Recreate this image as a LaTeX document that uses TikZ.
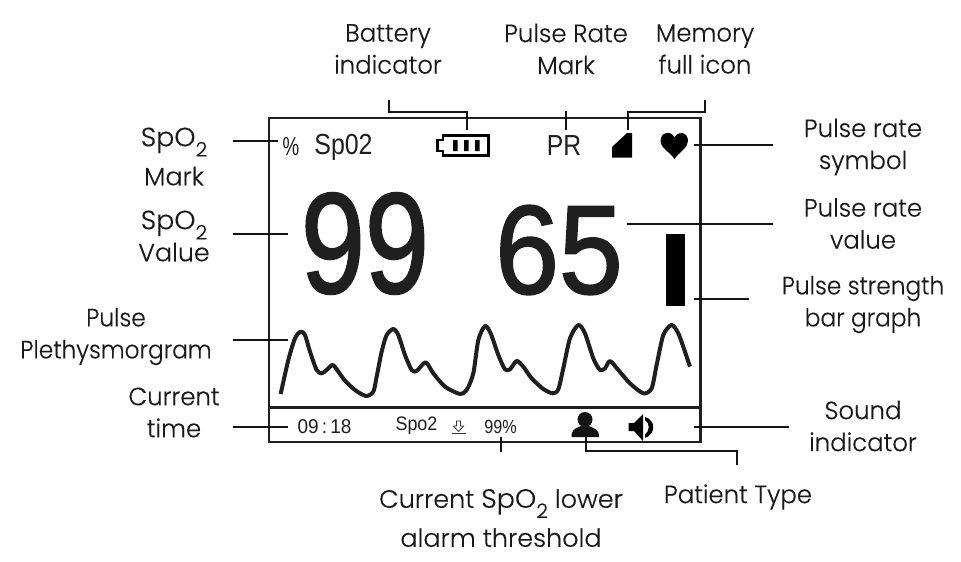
\documentclass[tikz,border=0pt]{standalone}
\usepackage{fontspec}
\setmainfont[FakeBold=0.25]{Poppins Light}
\newfontfamily\dispfont{Liberation Sans}
\newfontfamily\bigfont[FakeBold=1.6]{Liberation Sans}
\newcommand{\spotwo}{{\fontsize{26.5}{32}\selectfont SpO}\raisebox{-0.75ex}{\fontsize{20}{20}\selectfont 2}}
\tikzset{
  lbl/.style={inner sep=0pt,align=center,font=\fontsize{25}{32}\selectfont,text=black!90,xscale=.975},
  lblnarrow/.style={lbl,xscale=.955},
  disp/.style={inner sep=0pt,font=\dispfont,text=black!88},
  conn/.style={line width=2pt,black!92},
  frame/.style={line width=2.7pt,black!88},
  wave/.style={line width=4pt,black!88,line join=round,line cap=butt},
}
\begin{document}
\begin{tikzpicture}[x=1pt,y=-1pt]
\useasboundingbox (0,0) rectangle (961,562);
\fill[white] (0,0) rectangle (961,562);
% frame
\draw[frame] (269,118) rectangle (700.5,442);
\coordinate (divl) at (269,407.5);
\coordinate (divr) at (700.5,407.5);
\draw[frame] (divl) -- (divr);
% labels
\node[lbl,xscale=1.04] (spomark) at (174,156.5) {\spotwo\\[7pt]Mark};
\node[lbl,xscale=1.04] (spoval) at (174,236) {\spotwo\\Value};
\node[lbl] (battery) at (388,49) {Battery\\indicator};
\node[lbl] (prmark) at (566,49) {Pulse Rate\\Mark};
\node[lbl] (memory) at (705,49) {Memory\\full icon};
\node[lblnarrow] (pleth) at (116,336.5) {Pulse\\Plethysmorgram};
\node[lbl] (curtime) at (174,412.5) {Current\\time};
\node[lbl] (prsym) at (863,147) {Pulse rate\\symbol};
\node[lbl] (prval) at (863,223.5) {Pulse rate\\value};
\node[lblnarrow] (strength) at (863,304.5) {Pulse strength\\bar graph};
\node[lbl] (sound) at (863,426) {Sound\\indicator};
\node[lbl,xscale=1.045] (thresh) at (501,518) {Current \spotwo{} lower\\[7pt]alarm threshold};
\node[lbl] (ptype) at (738,497) {Patient Type};
% display texts
\node[disp,font=\dispfont\fontsize{26}{26}\selectfont,xscale=.72] (pct) at (291,147) {\%};
\node[disp,font=\dispfont\fontsize{29}{29}\selectfont,xscale=.86] (sp02) at (343.5,147) {Sp02};
\node[disp,font=\dispfont\fontsize{29}{29}\selectfont,xscale=.85] (pr) at (564,146) {PR};
\node[disp,font=\bigfont\fontsize{143}{143}\selectfont,xscale=.805] (big) at (365,243.5) {99};
\node[disp,font=\bigfont\fontsize{126}{126}\selectfont,xscale=.91] (rate) at (559,250) {65};
\node[disp,font=\dispfont\fontsize{20}{20}\selectfont,xscale=.95] (clock) at (324.5,426.5) {09\,:\,18};
\node[disp,font=\dispfont\fontsize{19.5}{19.5}\selectfont,xscale=.92] (spo) at (416.5,426) {Spo2};
\node[disp,font=\dispfont\fontsize{19}{19}\selectfont,xscale=.85] (lim) at (500.5,427) {99\%};
% battery icon
\draw[line width=2.7pt,black] (443,135.5) -- (488.5,135.5) -- (488.5,155.5) -- (443,155.5) -- (443,151) -- (437.5,151) -- (437.5,140) -- (443,140) -- cycle;
\fill[black] (453,140) rectangle (457.5,151) (464,140) rectangle (468.5,151) (475,140) rectangle (479.5,151);
% memory icon
\fill[black] (612,157.5) -- (612,147) -- (627,133) -- (632,133) -- (632,157.5) -- cycle;
% heart
\fill[black] (674.5,159) .. controls (670,152) and (660.5,148) .. (660.5,141) .. controls (660.5,132) and (671,130) .. (674.5,137.5) .. controls (678,130) and (688,132) .. (688,141) .. controls (688,148) and (679,152) .. (674.5,159) -- cycle;
% bar
\fill[black] (666,234) rectangle (685,306);
% wave
\begin{scope}[shift={(260,310)},x=.3333pt,y=-.3333pt]
\draw[wave] plot[smooth,tension=.45] coordinates {(62,252)(85,150)(105,85)(122,65)(135,75)(150,125)(170,180)(185,190)(200,180)(218,165)(235,185)(255,212)(285,240)(318,258)(340,245)(350,200)(365,125)(380,75)(400,57)(415,75)(435,135)(455,180)(470,183)(497,157)(520,190)(555,230)(600,252)(620,240)(640,190)(655,90)(675,48)(692,70)(715,135)(735,178)(750,178)(770,153)(790,170)(815,205)(850,237)(878,250)(895,238)(910,175)(930,85)(955,45)(975,70)(1000,145)(1020,180)(1035,175)(1050,153)(1075,180)(1110,220)(1150,250)(1175,235)(1190,165)(1210,75)(1235,45)(1255,70)(1275,125)(1290,170)};
\end{scope}
% alarm glyph
\draw[line width=.8pt,black!80] (456.5,421) -- (456.5,426) -- (453.5,426) -- (458.5,431.5) -- (463.5,426) -- (460.5,426) -- (460.5,421) -- cycle;
\draw[line width=1pt,black!80] (451.5,433.5) -- (466,433.5);
% person
\fill[black!92] (585,419.5) ellipse (7.5 and 7.5);
\fill[black!92] (571.5,437) .. controls (571.5,430) and (574,429) .. (581,426) -- (589,426) .. controls (596,429) and (599,430) .. (599,437) -- cycle;
% speaker
\fill[black] (628.5,423) -- (634,423) -- (643,414) -- (643,441) -- (634,431) -- (628.5,431) -- cycle;
\fill[black] (645,417) .. controls (656,420) and (656,434) .. (645,438) -- (645,434.5) .. controls (650,431) and (650,423) .. (645,420) -- cycle;
% connectors
\coordinate (c1a) at (388.5,100); \coordinate (c1b) at (388.5,112); \coordinate (c1c) at (467,112); \coordinate (c1d) at (467,129.5);
\draw[conn] (c1a) -- (c1b) -- (c1c) -- (c1d);
\coordinate (c2a) at (566,111); \coordinate (c2b) at (566,129.5);
\draw[conn] (c2a) -- (c2b);
\coordinate (c3a) at (705,100); \coordinate (c3b) at (705,112); \coordinate (c3c) at (628,112); \coordinate (c3d) at (628,129.5);
\draw[conn] (c3a) -- (c3b) -- (c3c) -- (c3d);
\coordinate (c4a) at (233,141); \coordinate (c4b) at (278,141);
\draw[conn] (c4a) -- (c4b);
\coordinate (c5a) at (233,234); \coordinate (c5b) at (288,234);
\draw[conn] (c5a) -- (c5b);
\coordinate (c6a) at (233,340); \coordinate (c6b) at (288,340);
\draw[conn] (c6a) -- (c6b);
\coordinate (c7a) at (233,427); \coordinate (c7b) at (288,427);
\draw[conn] (c7a) -- (c7b);
\coordinate (c8a) at (694,145); \coordinate (c8b) at (773,145);
\draw[conn] (c8a) -- (c8b);
\coordinate (c9a) at (627,224); \coordinate (c9b) at (773,224);
\draw[conn] (c9a) -- (c9b);
\coordinate (c10a) at (694,299); \coordinate (c10b) at (749,299);
\draw[conn] (c10a) -- (c10b);
\coordinate (c11a) at (694,427); \coordinate (c11b) at (789,427);
\draw[conn] (c11a) -- (c11b);
\coordinate (c12a) at (501,437); \coordinate (c12b) at (501,451.5);
\draw[conn] (c12a) -- (c12b);
\coordinate (c13a) at (585.5,435); \coordinate (c13b) at (585.5,451); \coordinate (c13c) at (737,451); \coordinate (c13d) at (737,465);
\draw[conn] (c13a) -- (c13b) -- (c13c) -- (c13d);
\end{tikzpicture}
\end{document}
